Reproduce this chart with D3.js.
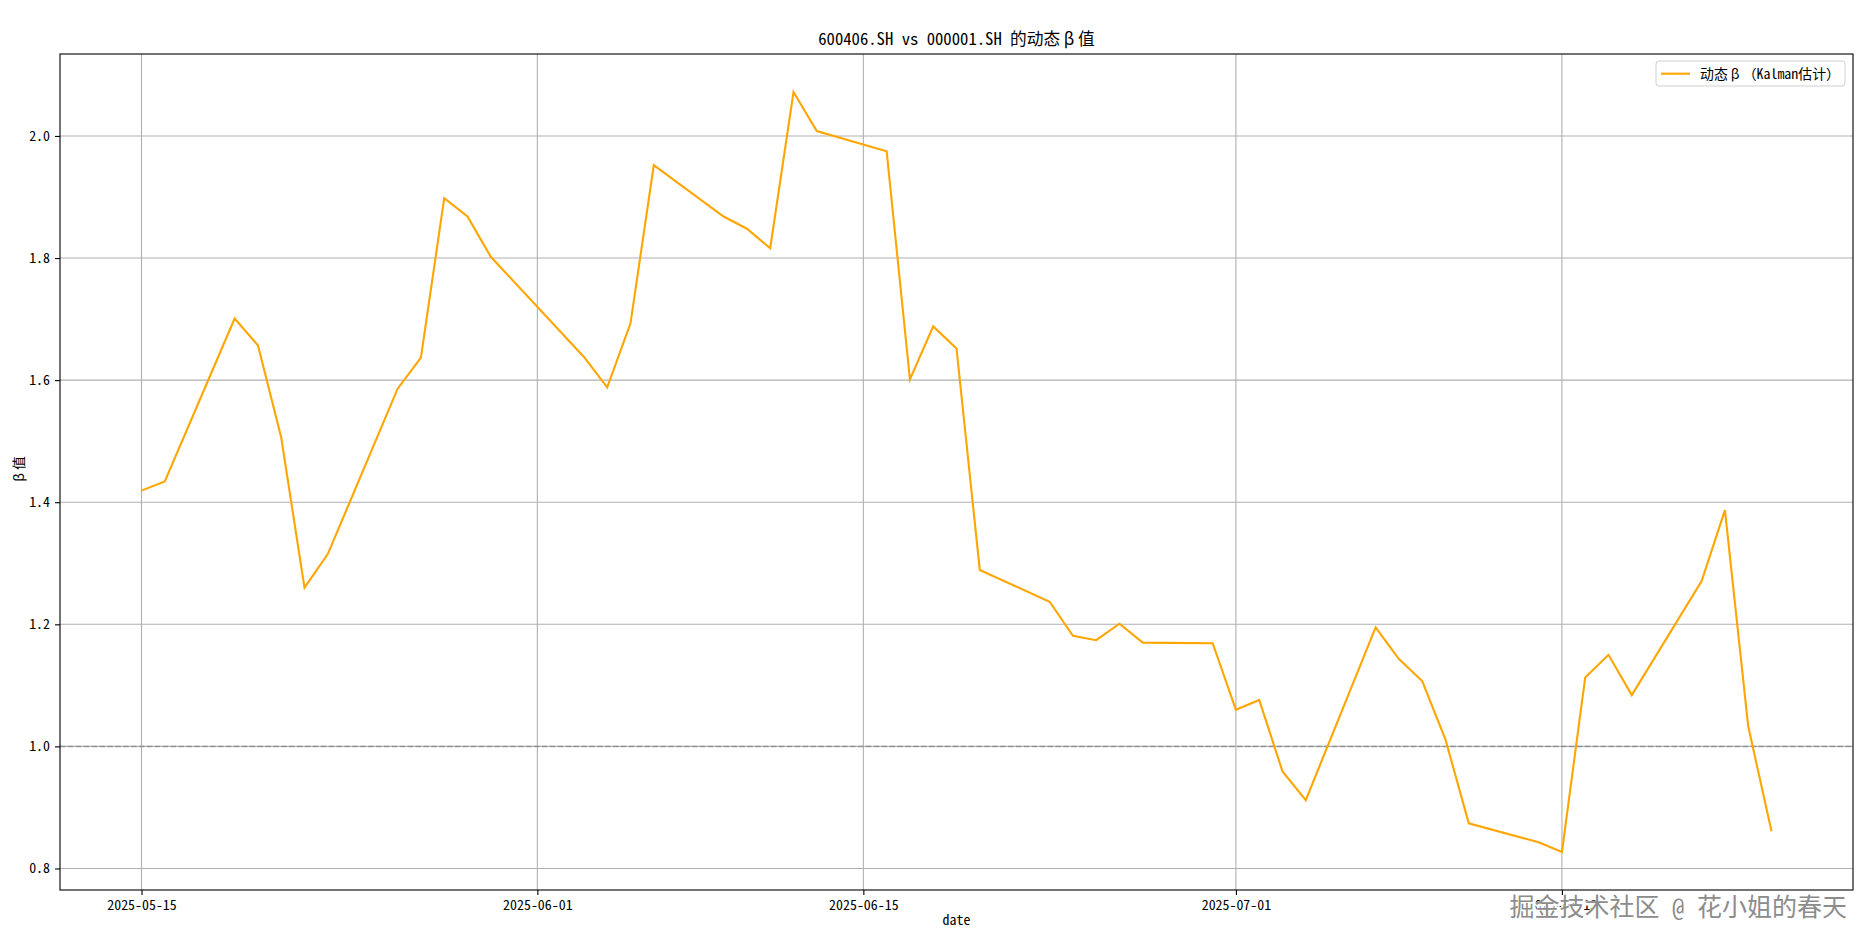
<!DOCTYPE html>
<html>
<head>
<meta charset="utf-8">
<script src="https://cdn.jsdelivr.net/npm/d3@7"></script>
<style>
  html, body { margin: 0; padding: 0; background: #fff; }
  svg text { font-family: "Noto Sans Mono CJK SC", "Noto Sans CJK SC", "DejaVu Sans Mono", monospace; }
</style>
</head>
<body>
<svg id="chart" width="1874" height="946"></svg>
<script>
const dates = ["2025-05-15","2025-05-16","2025-05-19","2025-05-20","2025-05-21","2025-05-22","2025-05-23","2025-05-26","2025-05-27","2025-05-28","2025-05-29","2025-05-30","2025-06-03","2025-06-04","2025-06-05","2025-06-06","2025-06-09","2025-06-10","2025-06-11","2025-06-12","2025-06-13","2025-06-16","2025-06-17","2025-06-18","2025-06-19","2025-06-20","2025-06-23","2025-06-24","2025-06-25","2025-06-26","2025-06-27","2025-06-30","2025-07-01","2025-07-02","2025-07-03","2025-07-04","2025-07-07","2025-07-08","2025-07-09","2025-07-10","2025-07-11","2025-07-14","2025-07-15","2025-07-16","2025-07-17","2025-07-18","2025-07-21","2025-07-22","2025-07-23","2025-07-24"];
const betaValues = [1.419,1.434,1.701,1.657,1.506,1.260,1.315,1.586,1.637,1.898,1.868,1.802,1.638,1.588,1.693,1.952,1.868,1.848,1.816,2.072,2.008,1.975,1.601,1.688,1.652,1.289,1.237,1.181,1.174,1.201,1.170,1.169,1.060,1.076,0.959,0.912,1.195,1.143,1.107,1.011,0.874,0.843,0.827,1.113,1.150,1.084,1.271,1.387,1.033,0.861];
const xTickLabels = ["2025-05-15","2025-06-01","2025-06-15","2025-07-01","2025-07-15"];
const yTickValues = [0.8,1.0,1.2,1.4,1.6,1.8,2.0];
const referenceLevel = 1.0;
const titleText = "600406.SH vs 000001.SH 的动态β值";
const seriesLabel = "动态β（Kalman估计）";
const xLabel = "date";
const yLabel = "β值";
const watermark = "掘金技术社区 @ 花小姐的春天";

const parse = d3.utcParse("%Y-%m-%d");
const data = dates.map((d, i) => ({ date: parse(d), value: betaValues[i] }));

const svg = d3.select("#chart");
const W = 1874, H = 946;
const m = { left: 60, top: 54, right: W - 1853, bottom: H - 890 };
const iw = W - m.left - m.right, ih = H - m.top - m.bottom;

// matplotlib-like 5% margins
const xExt = d3.extent(data, d => d.date);
const xPad = (xExt[1] - xExt[0]) * 0.05;
const x = d3.scaleUtc().domain([new Date(+xExt[0] - xPad), new Date(+xExt[1] + xPad)]).range([0, iw]);
const yExt = d3.extent(data, d => d.value);
const yPad = (yExt[1] - yExt[0]) * 0.05;
const y = d3.scaleLinear().domain([yExt[0] - yPad, yExt[1] + yPad]).range([ih, 0]);

const g = svg.append("g").attr("transform", `translate(${m.left},${m.top})`);
const xTicks = xTickLabels.map(parse);

// writes text, giving β a full-width slot like the SimHei original
function setText(sel, str, fs) {
  const parts = str.split("β");
  parts.forEach((p, i) => {
    if (i > 0) sel.append("tspan").attr("dx", fs * 0.22).text("β");
    if (p.length) sel.append("tspan").attr("dx", i > 0 ? fs * 0.22 : 0).text(p);
  });
}

// grid
g.append("g").selectAll("line").data(yTickValues).join("line")
  .attr("x1", 0).attr("x2", iw)
  .attr("y1", d => y(d)).attr("y2", d => y(d))
  .attr("stroke", "#b0b0b0").attr("stroke-width", 1.1);
g.append("g").selectAll("line").data(xTicks).join("line")
  .attr("y1", 0).attr("y2", ih)
  .attr("x1", d => x(d)).attr("x2", d => x(d))
  .attr("stroke", "#b0b0b0").attr("stroke-width", 1.1);

// reference line
g.append("line")
  .attr("x1", 0).attr("x2", iw)
  .attr("y1", y(referenceLevel)).attr("y2", y(referenceLevel))
  .attr("stroke", "#808080").attr("stroke-opacity", 0.7)
  .attr("stroke-width", 1.5).attr("stroke-dasharray", "5.5,2.4");

// series line
const line = d3.line().x(d => x(d.date)).y(d => y(d.value));
g.append("path").datum(data)
  .attr("d", line)
  .attr("fill", "none")
  .attr("stroke", "#FFA500")
  .attr("stroke-width", 2.1)
  .attr("stroke-linejoin", "miter");

// axes
const xAxis = d3.axisBottom(x).tickValues(xTicks).tickFormat(d3.utcFormat("%Y-%m-%d")).tickSizeInner(5).tickSizeOuter(0).tickPadding(5);
const gx = g.append("g").attr("transform", `translate(0,${ih})`).call(xAxis);
gx.select(".domain").remove();
gx.selectAll("text").attr("font-size", 13.9).attr("fill", "#000");
gx.selectAll("line").attr("stroke", "#000").attr("stroke-width", 1.1);

const yAxis = d3.axisLeft(y).tickValues(yTickValues).tickFormat(d3.format(".1f")).tickSizeInner(5).tickSizeOuter(0).tickPadding(5);
const gy = g.append("g").call(yAxis);
gy.select(".domain").remove();
gy.selectAll("text").attr("font-size", 13.9).attr("fill", "#000");
gy.selectAll("line").attr("stroke", "#000").attr("stroke-width", 1.1);
svg.selectAll(".tick text").attr("font-family", null);

// frame
g.append("rect").attr("x", 0).attr("y", 0).attr("width", iw).attr("height", ih)
  .attr("fill", "none").attr("stroke", "#000").attr("stroke-width", 1.1);

// title and labels
const tt = svg.append("text").attr("x", m.left + iw / 2).attr("y", m.top - 9)
  .attr("text-anchor", "middle").attr("font-size", 16.7).attr("fill", "#000");
setText(tt, titleText, 16.7);
svg.append("text").attr("x", m.left + iw / 2).attr("y", 925)
  .attr("text-anchor", "middle").attr("font-size", 13.9).attr("fill", "#000").text(xLabel);
const yl = svg.append("text").attr("transform", `translate(24,${m.top + ih / 2}) rotate(-90)`)
  .attr("text-anchor", "middle").attr("font-size", 13.9).attr("fill", "#000");
setText(yl, yLabel, 13.9);

// legend
const lg = svg.append("g").attr("transform", "translate(1656,61)");
lg.append("rect").attr("width", 189).attr("height", 25).attr("rx", 3)
  .attr("fill", "#fff").attr("fill-opacity", 0.8).attr("stroke", "#d0d0d0").attr("stroke-width", 1);
lg.append("line").attr("x1", 5).attr("x2", 34).attr("y1", 12.7).attr("y2", 12.7)
  .attr("stroke", "#FFA500").attr("stroke-width", 2.1);
const lt = lg.append("text").attr("x", 44).attr("y", 17.5).attr("font-size", 13.9).attr("fill", "#000");
setText(lt, seriesLabel, 13.9);

// watermark
const wm = svg.append("g");
wm.append("text").attr("x", 1848).attr("y", 917).attr("text-anchor", "end")
  .attr("font-size", 25).attr("fill", "#fff").attr("stroke", "#fff").attr("stroke-width", 3)
  .attr("font-family", "Noto Sans CJK SC").text(watermark);
wm.append("text").attr("x", 1847).attr("y", 916).attr("text-anchor", "end")
  .attr("font-size", 25).attr("fill", "#8c8c8c")
  .attr("font-family", "Noto Sans CJK SC").text(watermark);
</script>
</body>
</html>
